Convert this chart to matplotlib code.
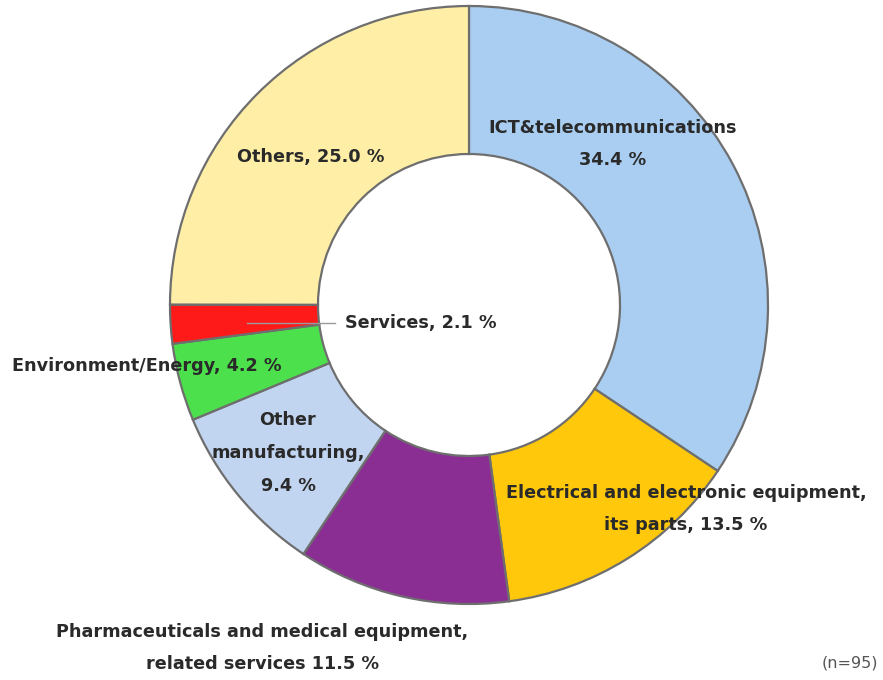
import matplotlib.pyplot as plt

categories = ["ICT&telecommunications", "Electrical and electronic equipment, its parts",
              "Pharmaceuticals and medical equipment, related services",
              "Other manufacturing", "Environment/Energy", "Services", "Others"]
shares = [34.4, 13.5, 11.5, 9.4, 4.2, 2.1, 25.0]
colors = ["#A9CEF2", "#FFC80A", "#8A2E94", "#C2D5F0", "#4CE04C", "#FF1A1A", "#FFEFA6"]

fig = plt.figure(figsize=(8.83, 6.8), dpi=100)
ax = fig.add_axes([0, 0, 1, 1])

# pixel-ish coordinates, y measured from bottom
cx, cy, r = 469, 680 - 305, 299
ax.pie(shares, colors=colors, startangle=90, counterclock=False,
       center=(cx, cy), radius=r, frame=True,
       wedgeprops=dict(width=148, edgecolor="#6e6e6e", linewidth=1.6))
ax.set_xlim(0, 883)
ax.set_ylim(0, 680)
ax.set_aspect("equal")
ax.axis("off")

txt = dict(fontsize=12.7, fontweight="bold", color="#2a2a2a", ha="center", va="center",
           linespacing=2.05)

def Y(p):
    return 680 - p

ax.text(613, Y(144), "ICT&telecommunications\n34.4 %", **txt)
ax.text(311, Y(157), "Others, 25.0 %", **txt)
ax.text(686, Y(509), "Electrical and electronic equipment,\nits parts, 13.5 %", **txt)
ax.text(262, Y(648), "Pharmaceuticals and medical equipment,\nrelated services 11.5 %", **txt)
ax.text(288, Y(453), "Other\nmanufacturing,\n9.4 %", **txt)
ax.text(147, Y(366), "Environment/Energy, 4.2 %", **txt)
ax.text(345, Y(323), "Services, 2.1 %", **dict(txt, ha="left"))
ax.plot([247, 335], [Y(323), Y(323)], color="#9a9a9a", linewidth=1)
ax.text(878, Y(663), "(n=95)", fontsize=11.5, color="#555555", ha="right", va="center")

fig.savefig("out.png", dpi=100)
